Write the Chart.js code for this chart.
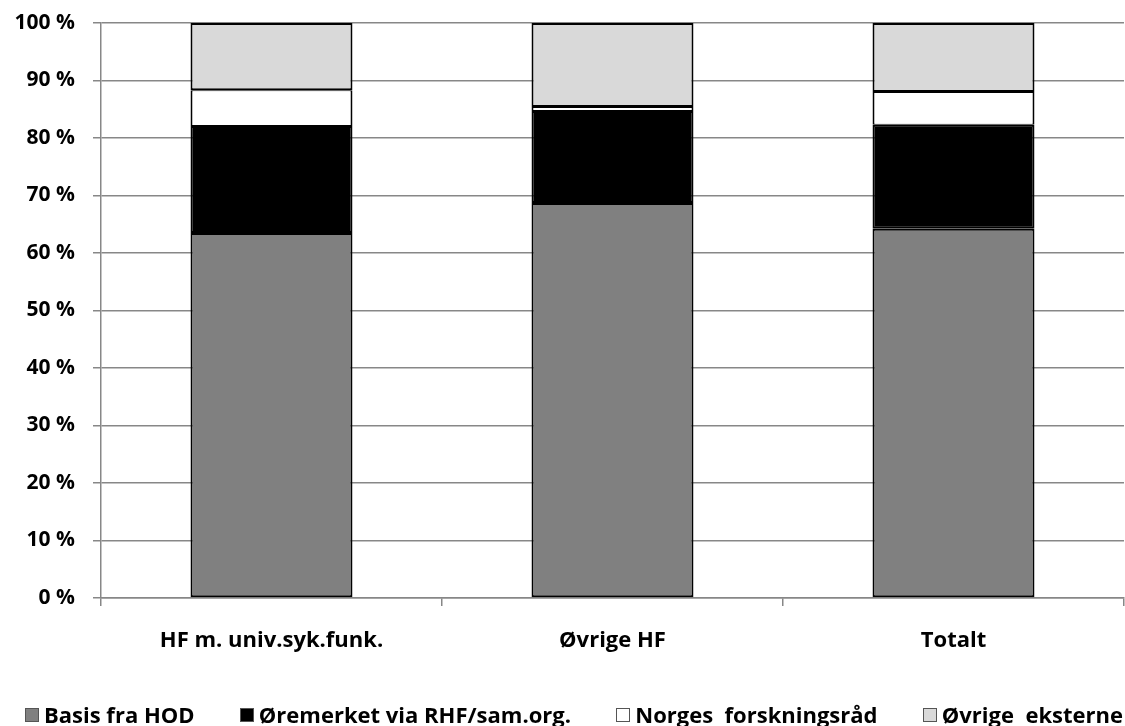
<!DOCTYPE html>
<html><head><meta charset="utf-8">
<script src="https://cdn.jsdelivr.net/npm/chart.js@4"></script>
<style>
html,body{margin:0;padding:0;background:#fff}
#wrap{position:relative;width:1125px;height:726px;overflow:hidden}
#legend{position:absolute;left:25px;right:2px;top:699px;height:30px;display:flex;justify-content:space-between;align-items:center;font-family:'Open Sans',sans-serif;font-weight:bold;font-size:22px;line-height:30px;color:#000;white-space:pre}
#legend .it{display:flex;align-items:center}
#legend .bx{width:12px;height:12px;border:1px solid #555;margin-right:5px;box-sizing:content-box;margin-top:2px}
</style>
</head><body><div id="wrap"><canvas id="c" width="1125" height="726"></canvas><div id="legend"></div></div>
<script>
const categories = ["HF m. univ.syk.funk.", "Øvrige HF", "Totalt"];
const seriesNames = ["Basis fra HOD", "Øremerket via RHF/sam.org.", "Norges  forskningsråd", "Øvrige  eksterne"];
const basisHOD = [63.5, 68.7, 64.2];
const oremerket = [18.6, 16.0, 18.1];
const forskningsrad = [6.2, 0.7, 5.7];
const ovrigeEksterne = [11.7, 14.6, 12.0];
const yTicks = [0,10,20,30,40,50,60,70,80,90,100];
const colors = ['#808080', '#000000', '#ffffff', '#d9d9d9'];
const borderWidths = [2, 2, {top:1, bottom:1, left:2, right:2}, 2];

const FONT = "'Open Sans', sans-serif";
const common = {borderColor:'#000', borderSkipped:false, barPercentage:0.475, categoryPercentage:1.0};
const values = [basisHOD, oremerket, forskningsrad, ovrigeEksterne];
const chart = new Chart(document.getElementById('c'), {
  type:'bar',
  data:{labels:categories, datasets: seriesNames.map((n,i)=>Object.assign({label:n, data:values[i], backgroundColor:colors[i], borderWidth:borderWidths[i]}, common))},
  options:{
    responsive:false, animation:false, devicePixelRatio:1,
    layout:{padding:{left:0,right:1,top:23,bottom:0}},
    plugins:{ tooltip:{enabled:false}, legend:{display:false} },
    scales:{
      x:{stacked:true, grid:{display:true, drawOnChartArea:false, drawTicks:true, tickLength:8, offset:true, color:'#878787', lineWidth:1.5},
         border:{color:'#878787', width:1.5},
         ticks:{color:'#000', font:{family:FONT, size:22, weight:'bold'}, padding:22},
         afterFit:(s)=>{s.height = 128; s.paddingLeft = 0; s.paddingRight = 0;}},
      y:{stacked:true, min:0, max:100, afterBuildTicks:(ax)=>{ax.ticks = yTicks.map(v=>({value:v}));},
         grid:{color:'#878787', lineWidth:1.5, tickLength:8},
         border:{color:'#878787', width:1.5},
         ticks:{color:'#000', font:{family:FONT, size:21, weight:'bold'}, padding:18, callback:(v)=>v+' %'},
         afterFit:(s)=>{s.width = 101; s.paddingTop = 0; s.paddingBottom = 0;}}
    }
  }
});
const lg = document.getElementById('legend');
chart.data.datasets.forEach(ds=>{
  const it = document.createElement('div'); it.className='it';
  const bx = document.createElement('span'); bx.className='bx'; bx.style.background = ds.backgroundColor;
  const tx = document.createElement('span'); tx.textContent = ds.label;
  it.appendChild(bx); it.appendChild(tx); lg.appendChild(it);
});
</script></body></html>
